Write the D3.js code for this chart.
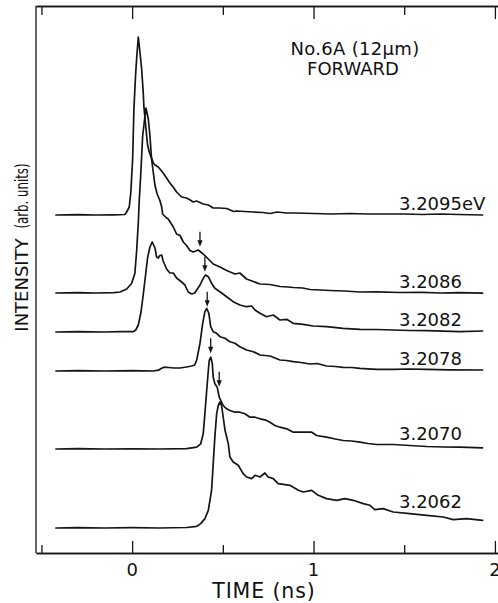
<!DOCTYPE html>
<html>
<head>
<meta charset="utf-8">
<script src="https://cdn.jsdelivr.net/npm/d3@7"></script>
<style>
  body { margin: 0; background: #fff; }
  svg { display: block; background: #fff; }
  text { font-family: "DejaVu Sans", sans-serif; fill: #111; }
</style>
</head>
<body>
<svg id="chart" width="498" height="603"></svg>
<script>
// Photon energies of the streak traces, top to bottom
const energyLabels = ["3.2095eV", "3.2086", "3.2082", "3.2078", "3.2070", "3.2062"];
// Vertical offset of each trace (arb. units)
const traceOffsets = [338, 260, 221, 182, 104, 25];

// Time-resolved intensity, [time (ns), intensity (arb. units)]
const trace32095 = [[-0.420,0],[-0.30,0.3],[-0.20,0],[-0.10,0.2],[-0.040,0.5],[-0.030,3],[-0.016,8],[-0.007,23],[0.003,57],[0.010,107],[0.019,140],[0.025,157],[0.034,178],[0.043,163],[0.052,147],[0.061,123],[0.065,108],[0.076,87],[0.085,70],[0.096,62],[0.107,57],[0.117,52],[0.126,50],[0.144,48],[0.158,45],[0.171,42],[0.190,37],[0.208,32],[0.226,28],[0.245,23],[0.273,18],[0.300,17],[0.320,15],[0.337,13],[0.355,14],[0.392,11],[0.420,10],[0.447,7],[0.480,7],[0.521,6.5],[0.560,3.5],[0.576,4],[0.620,3.5],[0.668,3],[0.720,2.5],[0.760,1.5],[0.800,3],[0.850,2],[0.900,2],[1.000,1.5],[1.100,1],[1.200,1.5],[1.300,1],[1.400,1],[1.500,1],[1.600,0.5],[1.700,1],[1.800,0.5],[1.932,0]];
const trace32086 = [[-0.420,0],[-0.30,0.3],[-0.20,0],[-0.10,0.3],[-0.067,1],[-0.030,4],[-0.003,9.5],[0.015,19.5],[0.025,42.5],[0.034,70],[0.039,92],[0.047,117],[0.058,157],[0.067,171],[0.076,185],[0.089,174],[0.098,157.5],[0.107,134],[0.126,107.5],[0.138,99],[0.153,92.5],[0.163,86],[0.168,79],[0.190,75],[0.199,74],[0.227,66],[0.245,59],[0.264,57.5],[0.282,51],[0.300,47.5],[0.319,42.5],[0.337,41],[0.364,43],[0.392,39],[0.420,34],[0.447,29],[0.484,26],[0.521,22.5],[0.567,19],[0.594,20],[0.631,14],[0.668,11.5],[0.705,9],[0.760,8.5],[0.815,6.5],[0.860,6],[0.888,5.5],[0.940,5],[0.980,3.5],[1.040,3],[1.090,2.5],[1.170,2],[1.256,1],[1.350,1.2],[1.476,0.5],[1.600,0.6],[1.700,0],[1.800,0.3],[1.932,-0.2]];
const trace32082 = [[-0.420,0],[-0.30,0.3],[-0.15,0],[-0.067,0.3],[0.006,0.3],[0.020,2],[0.034,7],[0.049,20],[0.061,37],[0.074,57],[0.085,74],[0.098,85],[0.111,90],[0.126,84],[0.135,75],[0.144,74],[0.153,76.5],[0.163,77],[0.171,71],[0.190,63],[0.208,59],[0.227,59],[0.245,54],[0.273,50],[0.291,47],[0.309,40],[0.328,38],[0.345,39],[0.356,42],[0.374,47],[0.392,53.7],[0.405,57],[0.420,55.3],[0.438,48.7],[0.456,43.7],[0.484,40.3],[0.521,35.3],[0.557,30.3],[0.594,27],[0.631,25.3],[0.659,26],[0.677,22],[0.705,18.7],[0.741,15.3],[0.778,17],[0.815,12],[0.852,12.7],[0.888,8.7],[0.943,7.7],[0.998,6],[1.072,5.3],[1.164,3.7],[1.256,2.7],[1.348,2.5],[1.439,2],[1.530,1.5],[1.624,1.3],[1.715,0.8],[1.807,0.3],[1.932,1]];
const trace32078 = [[-0.420,0],[-0.30,0.3],[-0.15,0],[0.000,0.3],[0.116,0],[0.145,0.8],[0.160,2.5],[0.175,3.8],[0.200,3.5],[0.230,3],[0.264,3],[0.300,4],[0.328,5],[0.345,6],[0.356,11],[0.374,27.7],[0.389,47.7],[0.401,59.3],[0.411,62.7],[0.423,57.7],[0.433,44.3],[0.447,39.3],[0.466,37.7],[0.484,34.3],[0.512,32.7],[0.539,29.3],[0.567,27.7],[0.594,24.3],[0.631,21],[0.668,19.3],[0.705,16],[0.760,15],[0.815,11],[0.850,10.5],[0.888,9.3],[0.930,8.5],[0.980,7],[1.020,7.5],[1.072,5],[1.120,4.5],[1.164,3.7],[1.210,3.5],[1.256,2.7],[1.300,2.2],[1.348,1.7],[1.439,1.7],[1.530,2],[1.624,1.7],[1.750,1.2],[1.932,1]];
const trace32070 = [[-0.420,0],[-0.30,0.3],[-0.15,0],[0.000,0.2],[0.150,0],[0.300,0.3],[0.356,1.8],[0.378,5.2],[0.392,15.2],[0.401,35.2],[0.411,58.5],[0.420,78.5],[0.425,88.5],[0.434,91.8],[0.442,85.2],[0.447,71.8],[0.456,65.2],[0.469,61.8],[0.480,51.8],[0.502,43.5],[0.521,40.2],[0.539,38.5],[0.567,36.8],[0.594,36.8],[0.622,35.2],[0.649,31.8],[0.677,31.8],[0.705,30.2],[0.732,29.2],[0.760,26.8],[0.787,23.5],[0.815,21.8],[0.852,20.2],[0.888,16.8],[0.943,16.8],[0.990,16.8],[1.017,13.5],[1.072,11.8],[1.120,10],[1.164,8.5],[1.210,8],[1.256,6.8],[1.300,5.5],[1.348,4.5],[1.439,4.5],[1.531,3.5],[1.624,2.5],[1.715,2.0],[1.807,1.8],[1.932,1.2]];
const trace32062 = [[-0.420,0],[-0.30,0.3],[-0.15,0],[0.000,0.3],[0.150,0],[0.300,0.5],[0.356,1.7],[0.378,4.4],[0.401,9.4],[0.420,17.7],[0.438,37.7],[0.447,64.4],[0.456,91],[0.466,114.4],[0.475,122.7],[0.484,126],[0.493,122.7],[0.502,111],[0.512,97.7],[0.530,84.4],[0.539,71],[0.557,66],[0.585,62.7],[0.612,54.4],[0.631,51],[0.659,49.4],[0.677,52.7],[0.705,51],[0.732,55],[0.750,51],[0.778,49.4],[0.805,44.4],[0.833,43.7],[0.870,42.7],[0.916,37.7],[0.943,36],[0.990,37.7],[1.026,32.7],[1.072,29.4],[1.127,27.7],[1.173,29.4],[1.219,27.7],[1.274,24.4],[1.311,22.7],[1.338,18.4],[1.384,19.4],[1.439,16],[1.531,14.4],[1.624,12.7],[1.715,11],[1.770,8.4],[1.844,9.4],[1.932,7.7]];
const traces = [trace32095, trace32086, trace32082, trace32078, trace32070, trace32062];

// Down arrows marking the secondary peak: time (ns) and tip height (arb. units)
const arrowTimes = [0.374, 0.401, 0.414, 0.433, 0.480];
const arrowTips = [306.3, 281.3, 246.3, 199.7, 166.3];

// Time axis ticks
const majorTicks = [0, 1, 2];
const minorTicks = [-0.5, 0.5, 1.5];
const tickLabels = ["0", "1", "2"];

const svg = d3.select("#chart");
const plotLeft = 36, plotRight = 498, plotTop = 6, plotBottom = 553;

const x = d3.scaleLinear().domain([-0.53, 2.017]).range([plotLeft, plotRight]);
const y = d3.scaleLinear().domain([0, 547]).range([plotBottom, plotTop]);

const ink = "#151515";

// Frame: bottom and top time axes with inward ticks, plus the left edge
function timeAxis(gen, ypos, values, size) {
  svg.append("g")
    .attr("transform", `translate(0,${ypos})`)
    .call(gen(x).tickValues(values).tickSize(size).tickSizeOuter(0).tickFormat(""))
    .call(g => g.selectAll("path,line").attr("stroke", ink).attr("stroke-width", 1.3));
}
timeAxis(d3.axisTop, plotBottom, majorTicks, 12);
timeAxis(d3.axisTop, plotBottom, minorTicks, 8);
timeAxis(d3.axisBottom, plotTop, majorTicks, 13);
timeAxis(d3.axisBottom, plotTop, minorTicks, 9);
svg.append("line")
  .attr("x1", plotLeft).attr("x2", plotLeft)
  .attr("y1", plotTop).attr("y2", plotBottom)
  .attr("stroke", ink).attr("stroke-width", 1.3);

// Tick labels
svg.append("g").selectAll("text")
  .data(majorTicks)
  .join("text")
  .attr("x", d => x(d))
  .attr("y", 576)
  .attr("text-anchor", "middle")
  .attr("font-size", 18)
  .text((d, i) => tickLabels[i]);

// Axis titles
svg.append("text")
  .attr("x", 264).attr("y", 598)
  .attr("text-anchor", "middle")
  .attr("font-size", 20.5)
  .attr("letter-spacing", 0.9)
  .text("TIME (ns)");

svg.append("text")
  .attr("transform", "translate(28,285) rotate(-90)")
  .attr("text-anchor", "middle")
  .attr("font-size", 18)
  .text("INTENSITY");

svg.append("text")
  .attr("transform", "translate(28,196) rotate(-90)")
  .attr("text-anchor", "middle")
  .attr("font-family", "'Liberation Sans', sans-serif")
  .attr("font-size", 17.5)
  .attr("textLength", 65)
  .attr("lengthAdjust", "spacingAndGlyphs")
  .text("(arb. units)");

// Sample annotation
svg.append("text")
  .attr("x", 355).attr("y", 55)
  .attr("text-anchor", "middle")
  .attr("font-size", 18)
  .attr("letter-spacing", 0.3)
  .text("No.6A (12\u03bcm)");
svg.append("text")
  .attr("x", 353).attr("y", 75)
  .attr("text-anchor", "middle")
  .attr("font-size", 18)
  .text("FORWARD");

// Traces
const line = d3.line()
  .x(d => x(d[0]))
  .y(d => y(d[1]));

traces.forEach((tr, i) => {
  const off = traceOffsets[i];
  svg.append("path")
    .datum(tr.map(d => [d[0], d[1] + off]))
    .attr("d", line)
    .attr("fill", "none")
    .attr("stroke", ink)
    .attr("stroke-width", 1.7)
    .attr("stroke-linejoin", "round")
    .attr("stroke-linecap", "round");
});

// Energy labels, set just above each trace tail
const labelStart = 1.471, labelEnd = 1.85;
traces.forEach((tr, i) => {
  const tail = tr.filter(d => d[0] >= labelStart - 0.04 && d[0] <= labelEnd);
  const peak = d3.max(tail, d => d[1]) + traceOffsets[i];
  svg.append("text")
    .attr("x", x(labelStart))
    .attr("y", y(peak) - 4.5)
    .attr("font-size", 18)
    .text(energyLabels[i]);
});

// Arrows
arrowTimes.forEach((t, i) => {
  const ax = x(t), ay = y(arrowTips[i]);
  svg.append("line")
    .attr("x1", ax).attr("x2", ax)
    .attr("y1", ay - 15).attr("y2", ay - 4)
    .attr("stroke", ink).attr("stroke-width", 1.3);
  svg.append("path")
    .attr("d", `M${ax - 2.6},${ay - 6.5}L${ax + 2.6},${ay - 6.5}L${ax},${ay}Z`)
    .attr("fill", ink);
});
</script>
</body>
</html>
